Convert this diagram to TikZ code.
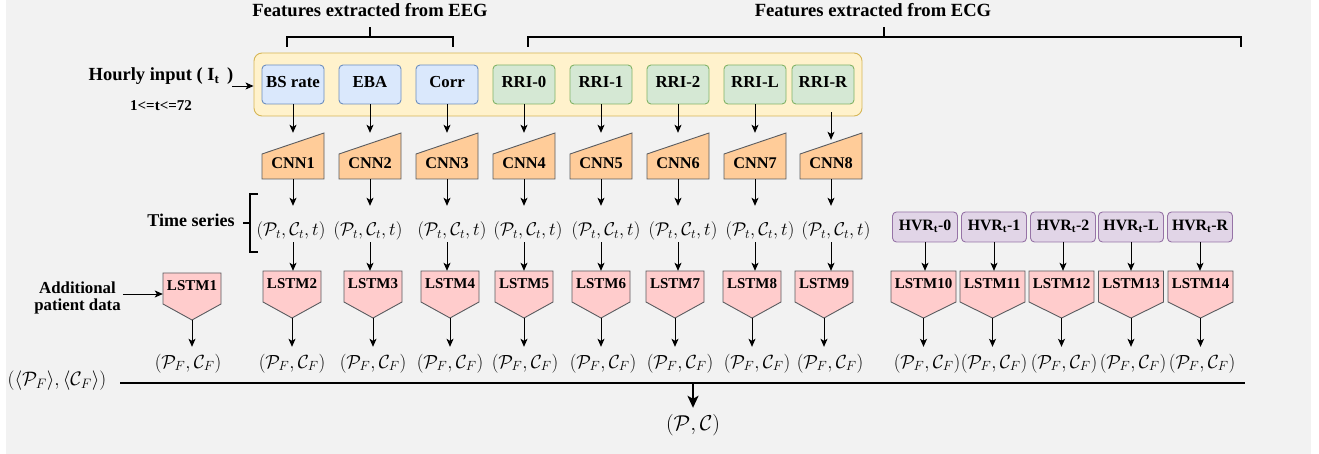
\RequirePackage{fix-cm}
\documentclass[tikz,border=0pt]{standalone}
\usepackage{fontspec}
\setmainfont{Liberation Serif}
\usetikzlibrary{arrows.meta,calc}
\definecolor{bgc}{HTML}{F2F2F2}
\definecolor{yelF}{HTML}{FFF2CC}\definecolor{yelD}{HTML}{D6B656}
\definecolor{bluF}{HTML}{DAE8FC}\definecolor{bluD}{HTML}{6C8EBF}
\definecolor{grnF}{HTML}{D5E8D4}\definecolor{grnD}{HTML}{82B366}
\definecolor{orgF}{HTML}{FFCC99}\definecolor{pnkF}{HTML}{FFCCCC}
\definecolor{purF}{HTML}{E1D5E7}\definecolor{purD}{HTML}{9673A6}
\definecolor{darkS}{HTML}{5A5C60}
\newcommand\myfs[1]{\fontsize{#1pt}{#1pt}\selectfont}
\begin{document}
\begin{tikzpicture}[x=1pt,y=-1pt,
  title/.style={font=\bfseries\myfs{18.6}, inner sep=0pt},
  lbl/.style={font=\bfseries\myfs{18}, inner sep=0pt},
  inbox/.style={rounded corners=4pt, minimum width=62pt, minimum height=39pt, inner sep=0pt,
     text height=11pt, text depth=4pt, font=\bfseries\myfs{16.8}, line width=0.9pt},
  eegbox/.style={inbox, fill=bluF, draw=bluD},
  ecgbox/.style={inbox, fill=grnF, draw=grnD},
  hvrbox/.style={inbox, fill=purF, draw=purD, minimum width=65pt, minimum height=30pt, font=\bfseries\myfs{15.8}},
  cont/.style={rounded corners=8pt, fill=yelF, draw=yelD, line width=0.9pt, minimum width=608pt, minimum height=63pt, inner sep=0pt},
  cnnshape/.style={fill=orgF, draw=darkS, line width=0.9pt},
  cnn/.style={inner sep=0pt, minimum width=62pt, text height=35.3pt, text depth=10.7pt, font=\bfseries\myfs{16.3}},
  lstmshape/.style={fill=pnkF, draw=darkS, line width=0.9pt},
  lstm/.style={inner sep=0pt, text height=17.5pt, text depth=29.5pt, font=\bfseries\myfs{15}},
  ts/.style={inner sep=0pt, text height=29.5pt, text depth=6.5pt, font=\myfs{18.5}},
  pf/.style={inner sep=0pt, text height=21pt, text depth=5pt, font=\myfs{19}},
  arr/.style={-{Stealth[length=8pt,width=7pt,inset=2pt]}, line width=0.9pt},
  bigarr/.style={-{Stealth[length=12pt,width=11pt,inset=3pt]}, line width=2pt},
  brk/.style={line width=1.3pt}]
\useasboundingbox (0,0) rectangle (1319,454);
\fill[bgc] (6,0) rectangle (1311,454);

% titles and brackets
\node[title, anchor=base] (teeg) at (370,17) {Features extracted from EEG};
\node[title, anchor=base] (tecg) at (873,17) {Features extracted from ECG};
\draw[brk] (287,47) -- (287,37) -- (453,37) -- (453,47) (370,37) -- (370,27);
\draw[brk] (528,47) -- (528,37) -- (1241,37) -- (1241,47) (884,37) -- (884,27);

% hourly input
\node[lbl, anchor=base, font=\bfseries\myfs{18.5}] (hourly) at (161,81) {Hourly input ( I\textsubscript{t} \,)};
\node[font=\bfseries\myfs{15}, inner sep=0pt, anchor=base] (range) at (161,111) {1<=t<=72};
\node[cont] (cont) at (558,84.5) {};
\coordinate (hin) at (232,86);
\draw[arr] (hin) -- (hin -| cont.west);

% input boxes
\foreach \n/\x/\lab in {bs/293/BS rate, eba/370/EBA, corr/447/Corr}
  \node[eegbox] (\n) at (\x,84.5) {\lab};
\foreach \n/\x/\lab in {r0/524/RRI-0, r1/601/RRI-1, r2/678/RRI-2, rl/755/RRI-L, rr/823/RRI-R}
  \node[ecgbox] (\n) at (\x,84.5) {\lab};

% CNNs
\foreach \n/\x in {1/293,2/370,3/447,4/524,5/601,6/678,7/755,8/831}{
  \filldraw[cnnshape] (\x-31,179) -- (\x+31,179) -- (\x+31,133) -- (\x-31,154) -- cycle;
  \node[cnn] (c\n) at (\x,156) {CNN\n};
}

% time series
\node[lbl, anchor=base] (tslab) at (191,226.7) {Time series};
\draw[line width=1.2pt] (258,194) -- (250,194) -- (250,252) -- (258,252) (243,223) -- (250,223);
\foreach \n/\x in {1/291,2/368,3/452,4/528,5/606,6/683,7/760,8/836}
  \node[ts] (pt\n) at (\x,224) {$(\mathcal{P}_t, \mathcal{C}_t, t)$};

% HVR boxes
\foreach \n/\x/\s in {0/925/0,1/994/1,2/1063/2,3/1131/L,4/1200/R}
  \node[hvrbox] (h\n) at (\x,227) {HVR\textsubscript{t}-\s};

% LSTMs
\foreach \n/\x/\w/\tp in {1/192/58/273, 2/292/58/271, 3/373/58/271, 4/450/58/271, 5/524/58/271,
   6/601/58/271, 7/675/58/271, 8/752/58/271, 9/824/58/271, 10/923.5/65/271, 11/992.5/65/271,
   12/1061.5/65/271, 13/1131/65/271, 14/1200.5/65/271}{
  \filldraw[lstmshape] (\x-\w/2,\tp) -- (\x+\w/2,\tp) -- (\x+\w/2,\tp+31) -- (\x,\tp+47) -- (\x-\w/2,\tp+31) -- cycle;
  \node[lstm, minimum width=\w pt] (l\n) at (\x,\tp+23.5) {LSTM\n};
}

% additional patient data
\node[lbl, align=center, font=\bfseries\myfs{16.8}, inner sep=2pt] (addl) at (77.5,298)
  {\baselineskip=20pt Additional\\patient data};
\draw[arr] ([yshift=4pt]addl.east) -- ([yshift=4pt]addl.east -| l1.west);

% outputs
\foreach \n/\x in {1/188,2/292,3/373,4/450,5/525,6/603,7/680,8/757,9/830,10/927,11/994,12/1064,13/1133,14/1202}
  \node[pf] (f\n) at (\x,360) {$(\mathcal{P}_F, \mathcal{C}_F)$};

% bus and result
\node[inner sep=0pt, font=\myfs{19.5}] (lhs) at (57,381) {$(\langle\mathcal{P}_F\rangle, \langle\mathcal{C}_F\rangle)$};
\coordinate (busL) at (120,383);
\coordinate (busR) at (1245,383);
\draw[line width=1.3pt] (busL) -- (busR);
\node[inner sep=0pt, text height=22pt, text depth=5pt, font=\myfs{21.5}] (pc) at (693,421.5) {$(\mathcal{P}, \mathcal{C})$};
\draw[bigarr] (pc.north |- busL) -- (pc.north);

% arrows
\foreach \a/\n in {bs/1,eba/2,corr/3,r0/4,r1/5,r2/6,rl/7}
  \draw[arr] (\a.south) -- (c\n.north);
\draw[arr] ([yshift=-8pt]c8.north |- rr.south) -- ([yshift=-7pt]c8.north);
\foreach \n in {1,...,8}
  \draw[arr] (c\n.south) -- (c\n.south |- pt\n.north);
\foreach \n/\j in {1/2,2/3,3/4,4/5,5/6,6/7,7/8,8/9}
  \draw[arr] (c\n.south |- pt\n.south) -- (c\n.south |- l\j.north);
\foreach \n/\j in {0/10,1/11,2/12,3/13,4/14}
  \draw[arr] (h\n.south) -- (h\n.south |- l\j.north);
\foreach \n in {1,...,14}
  \draw[arr] (l\n.south) -- (l\n.south |- f\n.north);
\end{tikzpicture}
\end{document}
